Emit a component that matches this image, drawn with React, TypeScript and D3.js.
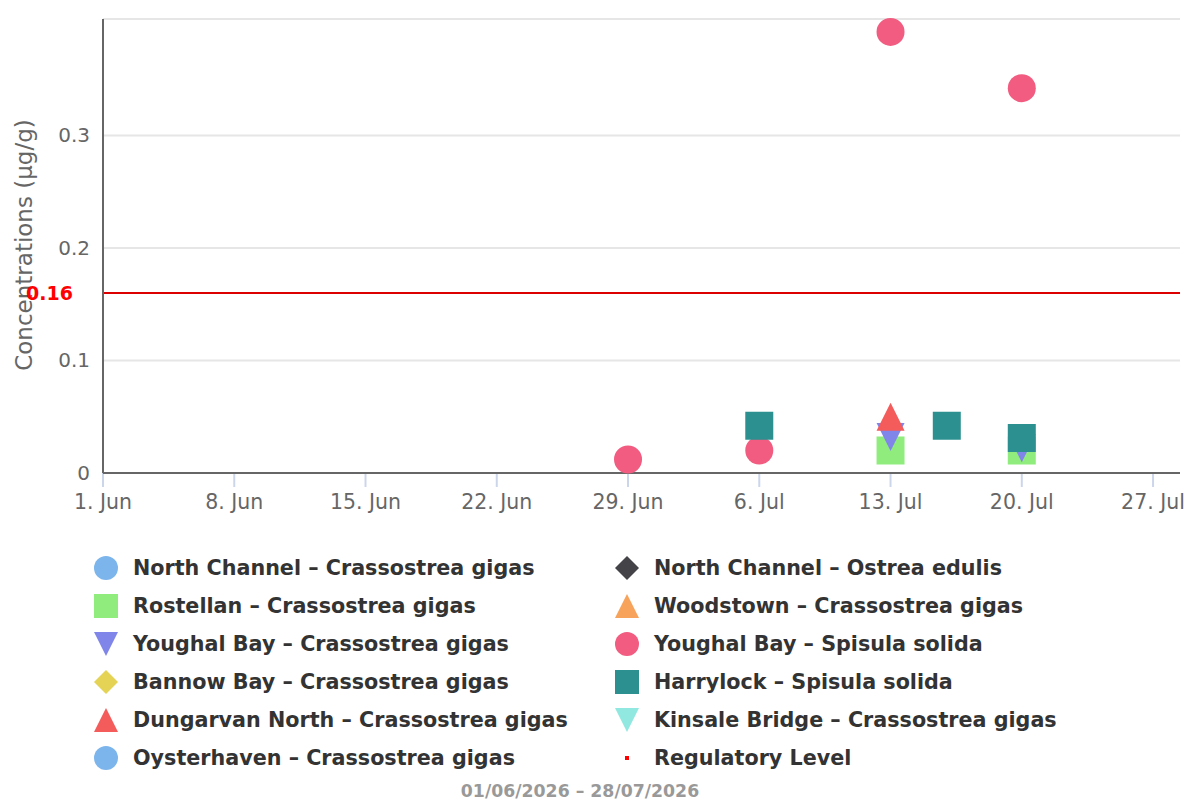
import { useEffect, useRef } from "react";
import * as d3 from "d3";

/**
 * Layout constants — plot box in page pixels, legend grid below it.
 */
const WIDTH = 1200;
const HEIGHT = 800;
const PLOT = { left: 103, right: 1180, top: 19, bottom: 473 };
const FONT = "'DejaVu Sans', Verdana, sans-serif";

type Point = [string, number];

const seriesNames = [
  "North Channel – Crassostrea gigas",
  "North Channel – Ostrea edulis",
  "Rostellan – Crassostrea gigas",
  "Woodstown – Crassostrea gigas",
  "Youghal Bay – Crassostrea gigas",
  "Youghal Bay – Spisula solida",
  "Bannow Bay – Crassostrea gigas",
  "Harrylock – Spisula solida",
  "Dungarvan North – Crassostrea gigas",
  "Kinsale Bridge – Crassostrea gigas",
  "Oysterhaven – Crassostrea gigas",
];

const seriesColors = [
  "#7cb5ec",
  "#434348",
  "#90ed7d",
  "#f7a35c",
  "#8085e9",
  "#f15c80",
  "#e4d354",
  "#2b908f",
  "#f45b5b",
  "#91e8e1",
  "#7cb5ec",
];

const seriesSymbols = [
  "circle",
  "diamond",
  "square",
  "triangle",
  "triangle-down",
  "circle",
  "diamond",
  "square",
  "triangle",
  "triangle-down",
  "circle",
];

// Sample results per site / species (date, µg/g)
const northChannelCG: Point[] = [];
const northChannelOE: Point[] = [];
const rostellanCG: Point[] = [
  ["2026-07-13", 0.02],
  ["2026-07-20", 0.02],
];
const woodstownCG: Point[] = [];
const youghalCG: Point[] = [
  ["2026-07-13", 0.032],
  ["2026-07-20", 0.022],
];
const youghalSS: Point[] = [
  ["2026-06-29", 0.012],
  ["2026-07-06", 0.02],
  ["2026-07-13", 0.392],
  ["2026-07-20", 0.342],
];
const bannowCG: Point[] = [];
const harrylockSS: Point[] = [
  ["2026-07-06", 0.042],
  ["2026-07-16", 0.042],
  ["2026-07-20", 0.031],
];
const dungarvanCG: Point[] = [["2026-07-13", 0.05]];
const kinsaleCG: Point[] = [];
const oysterhavenCG: Point[] = [];

const seriesData: Point[][] = [
  northChannelCG,
  northChannelOE,
  rostellanCG,
  woodstownCG,
  youghalCG,
  youghalSS,
  bannowCG,
  harrylockSS,
  dungarvanCG,
  kinsaleCG,
  oysterhavenCG,
];

const REGULATORY_LEVEL = 0.16;
const REGULATORY_NAME = "Regulatory Level";
const Y_TITLE = "Concentrations (µg/g)";
const DATE_RANGE_LABEL = "01/06/2026 – 28/07/2026";

const yTicks = [0, 0.1, 0.2, 0.3];
const Y_MAX = 0.4035;
const xTickDates = [
  "2026-06-01",
  "2026-06-08",
  "2026-06-15",
  "2026-06-22",
  "2026-06-29",
  "2026-07-06",
  "2026-07-13",
  "2026-07-20",
  "2026-07-27",
];
const X_START = "2026-06-01T00:00:00Z";
const X_END = "2026-07-28T10:30:00Z";

const parseDay = (s: string) => new Date(s.length === 10 ? `${s}T00:00:00Z` : s);

/** Highcharts-style marker outlines inside a 2r box centred on (cx, cy) */
function symbolPath(symbol: string, cx: number, cy: number, r: number): string {
  switch (symbol) {
    case "square":
      return `M${cx - r},${cy - r}h${2 * r}v${2 * r}h${-2 * r}Z`;
    case "diamond":
      return `M${cx},${cy - r}L${cx + r},${cy}L${cx},${cy + r}L${cx - r},${cy}Z`;
    case "triangle":
      return `M${cx},${cy - r}L${cx + r},${cy + r}L${cx - r},${cy + r}Z`;
    case "triangle-down":
      return `M${cx - r},${cy - r}L${cx + r},${cy - r}L${cx},${cy + r}Z`;
    default: {
      const p = d3.path();
      p.arc(cx, cy, r, 0, Math.PI * 2);
      p.closePath();
      return p.toString();
    }
  }
}

export default function App() {
  const svgRef = useRef<SVGSVGElement>(null);

  useEffect(() => {
    if (!svgRef.current) return;
    const svg = d3.select(svgRef.current);
    svg.selectAll("*").remove();

    const x = d3
      .scaleUtc()
      .domain([parseDay(X_START), parseDay(X_END)])
      .range([PLOT.left, PLOT.right]);
    const y = d3.scaleLinear().domain([0, Y_MAX]).range([PLOT.bottom, PLOT.top]);

    // Horizontal gridlines (plus the top edge of the plot)
    svg
      .append("g")
      .selectAll("line")
      .data([...yTicks.filter((t) => t > 0), Y_MAX])
      .join("line")
      .attr("x1", PLOT.left)
      .attr("x2", PLOT.right)
      .attr("y1", (d) => y(d))
      .attr("y2", (d) => y(d))
      .attr("stroke", "#e6e6e6")
      .attr("stroke-width", 2);

    // Y tick labels
    svg
      .append("g")
      .selectAll("text")
      .data(yTicks)
      .join("text")
      .attr("x", 90)
      .attr("y", (d) => y(d) + 7)
      .attr("text-anchor", "end")
      .attr("fill", "#666666")
      .attr("font-size", 20)
      .attr("font-family", FONT)
      .text((d) => (d === 0 ? "0" : d3.format(".1f")(d)));

    // Y axis title
    svg
      .append("text")
      .attr("transform", `translate(32,245) rotate(-90)`)
      .attr("text-anchor", "middle")
      .attr("fill", "#666666")
      .attr("font-size", 23)
      .attr("font-family", FONT)
      .text(Y_TITLE);

    // Regulatory limit line + label
    svg
      .append("line")
      .attr("x1", PLOT.left)
      .attr("x2", PLOT.right)
      .attr("y1", y(REGULATORY_LEVEL))
      .attr("y2", y(REGULATORY_LEVEL))
      .attr("stroke", "#dd0000")
      .attr("stroke-width", 2);
    svg
      .append("text")
      .attr("x", 73)
      .attr("y", y(REGULATORY_LEVEL) + 7)
      .attr("text-anchor", "end")
      .attr("fill", "#ff0000")
      .attr("font-weight", "bold")
      .attr("font-size", 19)
      .attr("font-family", FONT)
      .text(d3.format(".2f")(REGULATORY_LEVEL));

    // X ticks + labels
    const xTicks = xTickDates.map(parseDay);
    svg
      .append("g")
      .selectAll("line")
      .data(xTicks)
      .join("line")
      .attr("x1", (d) => x(d))
      .attr("x2", (d) => x(d))
      .attr("y1", PLOT.bottom)
      .attr("y2", PLOT.bottom + 14)
      .attr("stroke", "#ccd6eb")
      .attr("stroke-width", 2);
    svg
      .append("g")
      .selectAll("text")
      .data(xTicks)
      .join("text")
      .attr("x", (d) => x(d))
      .attr("y", PLOT.bottom + 36)
      .attr("text-anchor", "middle")
      .attr("fill", "#666666")
      .attr("font-size", 20.5)
      .attr("font-family", FONT)
      .text((d) => d3.utcFormat("%-d. %b")(d));

    // Axis lines
    svg
      .append("line")
      .attr("x1", PLOT.left)
      .attr("x2", PLOT.left)
      .attr("y1", PLOT.top)
      .attr("y2", PLOT.bottom)
      .attr("stroke", "#666666")
      .attr("stroke-width", 2);
    svg
      .append("line")
      .attr("x1", PLOT.left)
      .attr("x2", PLOT.right)
      .attr("y1", PLOT.bottom)
      .attr("y2", PLOT.bottom)
      .attr("stroke", "#666666")
      .attr("stroke-width", 2);

    // Markers — drawn in series order so later series sit on top
    seriesData.forEach((points, i) => {
      svg
        .append("g")
        .selectAll("path")
        .data(points)
        .join("path")
        .attr("d", (d) => symbolPath(seriesSymbols[i], x(parseDay(d[0])), y(d[1]), 14))
        .attr("fill", seriesColors[i]);
    });

    // Legend — two columns, row-major
    const legend = svg.append("g");
    const legendItems = [...seriesNames, REGULATORY_NAME];
    legendItems.forEach((name, i) => {
      const col = i % 2;
      const row = Math.floor(i / 2);
      const cx = col === 0 ? 106 : 627;
      const cy = 568 + row * 38;
      if (i < seriesNames.length) {
        legend
          .append("path")
          .attr("d", symbolPath(seriesSymbols[i], cx, cy, 12))
          .attr("fill", seriesColors[i]);
      } else {
        legend
          .append("rect")
          .attr("x", cx - 2)
          .attr("y", cy - 2)
          .attr("width", 4)
          .attr("height", 4)
          .attr("fill", "#ff0000");
      }
      legend
        .append("text")
        .attr("x", cx + 27)
        .attr("y", cy + 7)
        .attr("fill", "#333333")
        .attr("font-weight", "bold")
        .attr("font-size", 20.7)
        .attr("font-family", FONT)
        .text(name);
    });

    // Date range caption
    svg
      .append("text")
      .attr("x", 580)
      .attr("y", 797)
      .attr("text-anchor", "middle")
      .attr("fill", "#999999")
      .attr("font-weight", "bold")
      .attr("font-size", 17.3)
      .attr("font-family", FONT)
      .text(DATE_RANGE_LABEL);
  }, []);

  return (
    <svg
      ref={svgRef}
      width={WIDTH}
      height={HEIGHT}
      style={{ position: "absolute", left: 0, top: 0, background: "#ffffff" }}
    />
  );
}
